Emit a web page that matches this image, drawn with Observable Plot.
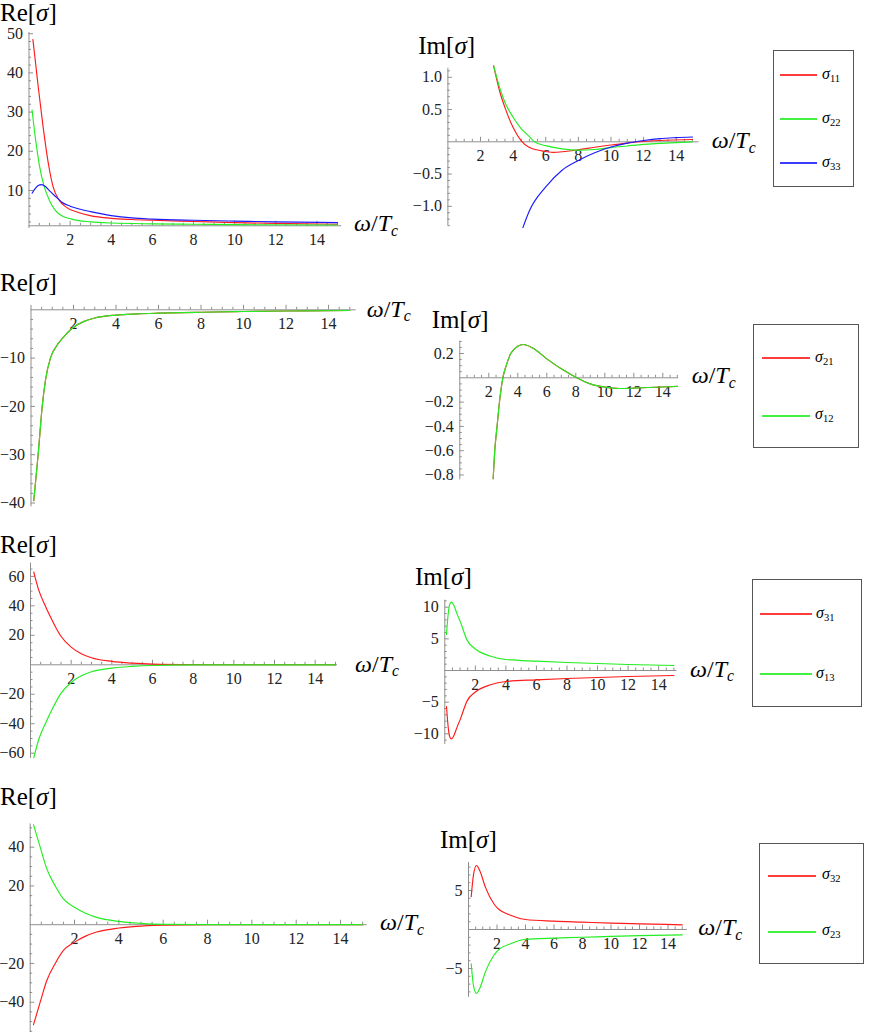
<!DOCTYPE html>
<html><head><meta charset="utf-8">
<script src="https://cdn.jsdelivr.net/npm/d3@7"></script>
<script src="https://cdn.jsdelivr.net/npm/@observablehq/plot@0.6"></script>
<style>
body{margin:0;background:#fff;}
#fig{position:relative;width:873px;height:1032px;font-family:"Liberation Serif","Times New Roman",serif;color:#000;overflow:hidden;background:#fff;}
#fig svg text{font-family:"Liberation Serif","Times New Roman",serif;}
.pan{position:absolute;}
.ttl,.xl{position:absolute;font-size:24px;line-height:1;white-space:nowrap;}
.ttl{font-size:25px;}
.xl .sb{position:relative;top:0.3em;font-size:0.66em;font-style:italic;}
.leg{position:absolute;border:1px solid #555;box-sizing:border-box;}
.lline{position:absolute;height:2px;opacity:0.85;}
.ltxt{position:absolute;font-size:16px;line-height:1;white-space:nowrap;font-style:italic;}
.ltxt .sb{position:relative;top:0.3em;font-size:0.66em;font-style:normal;}
</style></head>
<body><div id="fig"></div>
<script>
// ---------------- data ----------------
// Row 1 : Re and Im of sigma11, sigma22, sigma33
const re1_s11_w = [0.19, 0.33, 0.47, 0.68, 0.97, 1.17, 1.46, 1.82, 2.4, 2.97, 4, 5, 6, 8, 10, 12, 15];
const re1_s11_v = [48.5, 42, 35.5, 26.5, 16, 11, 7.6, 5.7, 4.4, 3.6, 2.9, 2.6, 2.4, 2.1, 1.8, 1.6, 1.4];
const re1_s22_w = [0.15, 0.27, 0.4, 0.51, 0.73, 1.0, 1.46, 2.07, 3, 4, 6, 8, 10, 15];
const re1_s22_v = [30.5, 25, 20, 16.3, 11.2, 7.4, 4.0, 2.7, 2.0, 1.7, 1.5, 1.4, 1.3, 1.2];
const re1_s33_w = [0.15, 0.3, 0.45, 0.6, 0.8, 1.0, 1.33, 1.6, 2, 2.5, 3, 4, 5, 6, 8, 10, 12, 15];
const re1_s33_v = [9.3, 10.5, 11.3, 11.5, 11.0, 9.9, 8.3, 7.0, 6.0, 5.2, 4.6, 3.6, 3.0, 2.7, 2.4, 2.2, 2.0, 1.8];

const im1_s11_w = [2.8, 3.2, 3.5, 4, 4.5, 5, 6, 6.5, 7, 8, 9, 10, 11, 12, 13, 15];
const im1_s11_v = [1.18, 0.76, 0.53, 0.22, 0.015, -0.09, -0.15, -0.165, -0.155, -0.124, -0.085, -0.05, -0.02, 0.005, 0.02, 0.036];
const im1_s22_w = [2.8, 3.2, 3.5, 4, 4.5, 5, 5.3, 6, 7, 8, 9, 10, 11, 12, 13, 15];
const im1_s22_v = [1.18, 0.82, 0.61, 0.38, 0.2, 0.08, 0.0, -0.06, -0.11, -0.13, -0.12, -0.09, -0.065, -0.04, -0.025, 0.0];
const im1_s33_w = [4.6, 5, 6, 7, 8, 9, 10, 11, 12, 13, 14, 15];
const im1_s33_v = [-1.33, -1.07, -0.70, -0.44, -0.29, -0.17, -0.08, -0.02, 0.02, 0.05, 0.065, 0.075];

// Row 2 : sigma21 = sigma12
const re2_w = [0.13, 0.34, 0.53, 0.68, 0.92, 1.2, 1.5, 2, 2.5, 3, 4, 5, 6, 8, 10, 12, 15];
const re2_s21_v = [-39.5, -29.8, -19.9, -14.6, -9.9, -7.5, -5.8, -3.6, -2.4, -1.7, -1.1, -0.85, -0.7, -0.5, -0.35, -0.25, -0.15];
const re2_s12_v = [-39.5, -29.8, -19.9, -14.6, -9.9, -7.5, -5.8, -3.6, -2.4, -1.7, -1.1, -0.85, -0.7, -0.5, -0.35, -0.25, -0.15];
const im2_w = [2.3, 2.41, 2.57, 2.74, 2.97, 3.2, 3.5, 4, 4.37, 5, 6, 7, 8, 9, 10, 11, 12, 13, 15];
const im2_s21_v = [-0.83, -0.6, -0.4, -0.195, 0.0, 0.1, 0.197, 0.26, 0.274, 0.247, 0.156, 0.074, 0.005, -0.05, -0.077, -0.088, -0.085, -0.08, -0.071];
const im2_s12_v = [-0.83, -0.6, -0.4, -0.195, 0.0, 0.1, 0.197, 0.26, 0.274, 0.247, 0.156, 0.074, 0.005, -0.05, -0.077, -0.088, -0.085, -0.08, -0.071];

// Row 3 : sigma31, sigma13
const re3_w = [0.16, 0.41, 0.74, 1.07, 1.48, 2, 2.5, 3, 4, 5, 6, 8, 10, 15];
const re3_s31_v = [63, 50.5, 39.6, 30, 19.7, 12, 7.5, 4.75, 2.3, 1.1, 0.45, 0.1, 0.03, 0];
const re3_s13_v = [-63, -50.5, -39.6, -30, -19.7, -12, -7.5, -4.75, -2.3, -1.1, -0.45, -0.1, -0.03, 0];
const im3_w = [0.11, 0.22, 0.33, 0.44, 0.59, 0.81, 1.03, 1.46, 2, 3, 4, 6, 8, 10, 12, 15];
const im3_s31_v = [-5.7, -8.9, -10.5, -10.8, -10.3, -8.9, -7.6, -4.8, -3.4, -2.26, -1.74, -1.47, -1.26, -1.1, -0.95, -0.79];
const im3_s13_v = [5.7, 8.9, 10.5, 10.8, 10.3, 8.9, 7.6, 4.8, 3.4, 2.26, 1.74, 1.47, 1.26, 1.1, 0.95, 0.79];

// Row 4 : sigma32, sigma23
const re4_w = [0.15, 0.45, 0.75, 1.13, 1.5, 2, 2.5, 3, 4, 5, 6, 8, 15];
const re4_s32_v = [-51.6, -40, -28.8, -20, -13.3, -9, -5.9, -3.8, -1.7, -0.7, -0.2, -0.05, 0];
const re4_s23_v = [51.6, 40, 28.8, 20, 13.3, 9, 5.9, 3.8, 1.7, 0.7, 0.2, 0.05, 0];
const im4_w = [0.19, 0.35, 0.56, 0.8, 1.19, 1.78, 2, 3, 4, 6, 8, 10, 12, 15];
const im4_s32_v = [4.2, 7.0, 8.2, 7.5, 5.4, 3.3, 2.8, 1.8, 1.28, 1.07, 0.94, 0.81, 0.73, 0.6];
const im4_s23_v = [-4.4, -7.2, -8.2, -7.5, -5.4, -3.3, -2.8, -1.8, -1.25, -1.1, -1.0, -0.88, -0.78, -0.68];

// tick values
const xTicks = [2, 4, 6, 8, 10, 12, 14];
const yTicksRe1 = [10, 20, 30, 40, 50];
const yTicksIm1 = [-1.0, -0.5, 0.5, 1.0];
const yTicksRe2 = [-10, -20, -30, -40];
const yTicksIm2 = [0.2, -0.2, -0.4, -0.6, -0.8];
const yTicksRe3 = [60, 40, 20, -20, -40, -60];
const yTicksIm3 = [10, 5, -5, -10];
const yTicksRe4 = [40, 20, -20, -40];
const yTicksIm4 = [5, -5];

const legendRows = [
  [["σ", "11", "red"], ["σ", "22", "green"], ["σ", "33", "blue"]],
  [["σ", "21", "red"], ["σ", "12", "green"]],
  [["σ", "31", "red"], ["σ", "13", "green"]],
  [["σ", "32", "red"], ["σ", "23", "green"]]
];
const colors = {red: "#ff1a1a", green: "#22ee22", blue: "#1a1aff"};

// ---------------- helpers ----------------
const fig = document.getElementById("fig");
const AX = "#8f8f8f";
const FONT = "Liberation Serif, Times New Roman, serif";
const tbl = (w, v) => w.map((d, i) => ({w: d, v: v[i]}));
const fmt = dec => d => (d < 0 ? "\u2212" : "") + Math.abs(d).toFixed(dec);
function minors(step, lo, hi, major) {
  const r = Math.round(major / step), out = [];
  for (let k = Math.ceil(lo / step - 1e-9); k <= Math.floor(hi / step + 1e-9); k++) {
    if (k % r !== 0) out.push(+(k * step).toFixed(4));
  }
  return out;
}

function panel(c) {
  const xMinor = minors(0.5, 0.5, c.xEnd, 2);
  const yMinor = minors(c.yMinorStep, c.yAxis[0], c.yAxis[1], c.yMajorStep);
  const marks = [
    Plot.ruleY([c.xAxisV], {x1: 0, x2: c.xEnd, stroke: AX, strokeWidth: 1}),
    Plot.ruleX([0], {y1: c.yAxis[0], y2: c.yAxis[1], stroke: AX, strokeWidth: 1}),
    Plot.ruleX(xTicks, {x: d => d, y1: c.xAxisV, y2: c.xAxisV, insetTop: -4.5, insetBottom: 0, stroke: AX}),
    Plot.ruleX(xMinor, {x: d => d, y1: c.xAxisV, y2: c.xAxisV, insetTop: -2.5, insetBottom: 0, stroke: AX}),
    Plot.ruleY(c.yTicks, {y: d => d, x1: 0, x2: 0, insetLeft: 0, insetRight: -4.5, stroke: AX}),
    Plot.ruleY(yMinor, {y: d => d, x1: 0, x2: 0, insetLeft: 0, insetRight: -2.5, stroke: AX}),
    Plot.text(xTicks, {x: d => d, y: c.xAxisV, text: d => String(d), dy: 14.5, fontSize: 16, fontFamily: FONT, fill: "#222"}),
    Plot.text(c.yTicks, {x: 0, y: d => d, text: fmt(c.yDec), dx: -6, textAnchor: "end", fontSize: 16, fontFamily: FONT, fill: "#222"}),
    ...c.series.map(s => Plot.line(s.data, {x: "w", y: "v", stroke: colors[s.color], strokeWidth: 1.15, curve: "monotone-x"}))
  ];
  const svg = Plot.plot({
    width: c.box[2], height: c.box[3],
    marginLeft: 0, marginRight: 0, marginTop: 0, marginBottom: 0,
    x: {domain: [0, 15], range: [c.xr[0] - c.box[0], c.xr[1] - c.box[0]], axis: null},
    y: {domain: c.yd, range: [c.yr[0] - c.box[1], c.yr[1] - c.box[1]], axis: null},
    style: {background: "transparent", fontFamily: FONT, overflow: "visible"},
    marks
  });
  const d = document.createElement("div");
  d.className = "pan";
  d.style.left = c.box[0] + "px"; d.style.top = c.box[1] + "px";
  d.appendChild(svg);
  fig.appendChild(d);
}

function label(cls, html, left, baseline) {
  const e = document.createElement("div");
  e.className = cls; e.innerHTML = html;
  e.style.left = left + "px"; e.style.top = (baseline - (cls === "ttl" ? 20.9 : 20.1)) + "px";
  fig.appendChild(e);
}
const RE = 'Re[<i>σ</i>]', IM = 'Im[<i>σ</i>]', XL = '<i>ω</i>/<i>T</i><span class="sb">c</span>';

function legend(entries, box, ys, lx1, lx2, tx) {
  const b = document.createElement("div");
  b.className = "leg";
  Object.assign(b.style, {left: box[0] + "px", top: box[1] + "px", width: (box[2] - box[0]) + "px", height: (box[3] - box[1]) + "px"});
  fig.appendChild(b);
  entries.forEach((en, i) => {
    const l = document.createElement("div");
    l.className = "lline";
    Object.assign(l.style, {left: Math.round(lx1) + "px", width: Math.round(lx2 - lx1) + "px", top: Math.round(ys[i] - 1) + "px", background: colors[en[2]]});
    fig.appendChild(l);
    const t = document.createElement("div");
    t.className = "ltxt";
    t.innerHTML = en[0] + '<span class="sb">' + en[1] + '</span>';
    Object.assign(t.style, {left: tx + "px", top: (ys[i] - 9.5) + "px"});
    fig.appendChild(t);
  });
}

// ---------------- panels ----------------
panel({box: [0, 26, 345, 230], xr: [28.5, 337], yd: [0, 50], yr: [229.2, 33.2], xAxisV: 1.0, xEnd: 15.2,
  yAxis: [0.3, 50.3], yTicks: yTicksRe1, yMajorStep: 10, yMinorStep: 2, yDec: 0,
  series: [{data: tbl(re1_s11_w, re1_s11_v), color: "red"}, {data: tbl(re1_s22_w, re1_s22_v), color: "green"}, {data: tbl(re1_s33_w, re1_s33_v), color: "blue"}]});
panel({box: [400, 62, 305, 170], xr: [447.4, 692], yd: [0, 1], yr: [141.3, 76.8], xAxisV: 0, xEnd: 15.4,
  yAxis: [-1.3, 1.14], yTicks: yTicksIm1, yMajorStep: 0.5, yMinorStep: 0.1, yDec: 1,
  series: [{data: tbl(im1_s11_w, im1_s11_v), color: "red"}, {data: tbl(im1_s22_w, im1_s22_v), color: "green"}, {data: tbl(im1_s33_w, im1_s33_v), color: "blue"}]});
panel({box: [0, 298, 360, 214], xr: [30.5, 349.3], yd: [0, -40], yr: [309.3, 502.5], xAxisV: 0, xEnd: 15.3,
  yAxis: [-40.8, 0.9], yTicks: yTicksRe2, yMajorStep: 10, yMinorStep: 2, yDec: 0,
  series: [{data: tbl(re2_w, re2_s21_v), color: "red"}, {data: tbl(re2_w, re2_s12_v), color: "green"}]});
panel({box: [400, 334, 285, 152], xr: [459.3, 676.8], yd: [0, 0.2], yr: [377.3, 353], xAxisV: 0, xEnd: 15.1,
  yAxis: [-0.84, 0.3], yTicks: yTicksIm2, yMajorStep: 0.2, yMinorStep: 0.05, yDec: 1,
  series: [{data: tbl(im2_w, im2_s21_v), color: "red"}, {data: tbl(im2_w, im2_s12_v), color: "green"}]});
panel({box: [0, 558, 345, 206], xr: [30, 335], yd: [0, 60], yr: [664.3, 575.9], xAxisV: 0, xEnd: 15.1,
  yAxis: [-63.5, 69], yTicks: yTicksRe3, yMajorStep: 20, yMinorStep: 5, yDec: 0,
  series: [{data: tbl(re3_w, re3_s31_v), color: "red"}, {data: tbl(re3_w, re3_s13_v), color: "green"}]});
panel({box: [400, 592, 285, 158], xr: [444.3, 673.4], yd: [0, 10], yr: [670, 606.7], xAxisV: 0, xEnd: 15.2,
  yAxis: [-11.7, 11.1], yTicks: yTicksIm3, yMajorStep: 5, yMinorStep: 1, yDec: 0,
  series: [{data: tbl(im3_w, im3_s31_v), color: "red"}, {data: tbl(im3_w, im3_s13_v), color: "green"}]});
panel({box: [0, 816, 375, 216], xr: [29.7, 362.2], yd: [0, 40], yr: [924.2, 846.7], xAxisV: 0, xEnd: 15.2,
  yAxis: [-56, 52], yTicks: yTicksRe4, yMajorStep: 20, yMinorStep: 5, yDec: 0,
  series: [{data: tbl(re4_w, re4_s32_v), color: "red"}, {data: tbl(re4_w, re4_s23_v), color: "green"}]});
panel({box: [400, 855, 295, 147], xr: [468, 681.8], yd: [0, 5], yr: [929, 890], xAxisV: 0, xEnd: 15.35,
  yAxis: [-8.7, 8.6], yTicks: yTicksIm4, yMajorStep: 5, yMinorStep: 1, yDec: 0,
  series: [{data: tbl(im4_w, im4_s32_v), color: "red"}, {data: tbl(im4_w, im4_s23_v), color: "green"}]});

// ---------------- titles and axis labels ----------------
label("ttl", RE, 0, 20.7);
label("ttl", IM, 418.3, 54);
label("ttl", RE, 0, 290.7);
label("ttl", IM, 431.7, 328);
label("ttl", RE, 0, 553);
label("ttl", IM, 415, 585);
label("ttl", RE, 0, 805);
label("ttl", IM, 440, 848);

label("xl", XL, 354, 231);
label("xl", XL, 711.7, 148.3);
label("xl", XL, 366.7, 316.7);
label("xl", XL, 691.7, 383.3);
label("xl", XL, 355, 671.7);
label("xl", XL, 690, 676.7);
label("xl", XL, 380, 930);
label("xl", XL, 698.3, 935);

// ---------------- legends ----------------
legend(legendRows[0], [773, 50, 854, 187], [75, 119, 163], 780, 817, 822);
legend(legendRows[1], [752.7, 324, 859.3, 448.3], [358.3, 415.7], 761.7, 810, 815);
legend(legendRows[2], [751.7, 579.3, 861.7, 707.3], [614.3, 674], 760, 811.7, 816);
legend(legendRows[3], [759.3, 842.7, 864.3, 964], [875.7, 931.7], 768.3, 816.7, 822);
</script></body></html>
